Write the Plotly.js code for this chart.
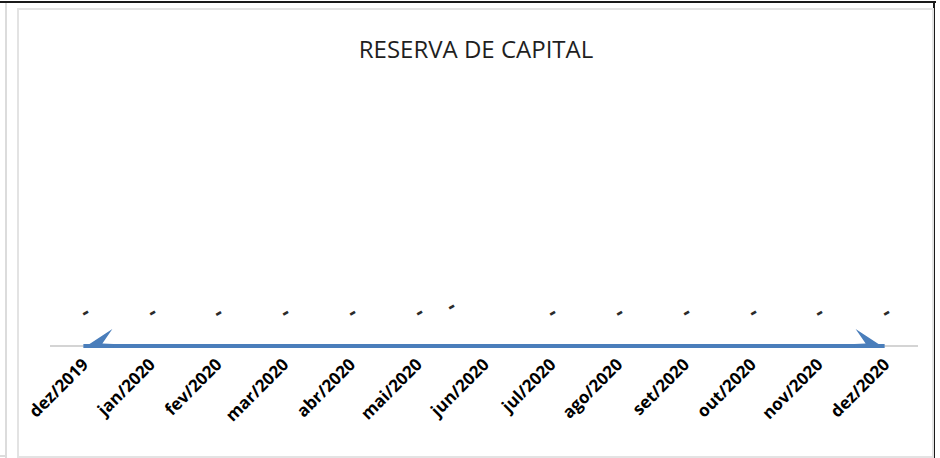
<!DOCTYPE html>
<html>
<head>
<meta charset="utf-8">
<script src="https://cdn.plot.ly/plotly-3.0.1.min.js"></script>
<style>
  html, body { margin: 0; padding: 0; background: #ffffff; }
  #wrap { position: relative; width: 940px; height: 458px; overflow: hidden; }
  #chart { position: absolute; left: 0; top: 0; width: 940px; height: 458px; }
  .deco { position: absolute; pointer-events: none; }
</style>
</head>
<body>
<div id="wrap">
  <div id="chart"></div>
  <div class="deco" style="left:0;top:1px;width:936px;height:2px;background:#1a1a1a;"></div>
  <div class="deco" style="left:933px;top:1px;width:2px;height:457px;background:#1a1a1a;"></div>
  <div class="deco" style="left:5px;top:3px;width:2px;height:455px;background:#dcdcdc;"></div>
  <div class="deco" style="left:0;top:455px;width:7px;height:2px;background:#dcdcdc;"></div>
  <div class="deco" style="left:17px;top:8px;width:913px;height:446px;border:2px solid #e3e3e3;"></div>
</div>
<script>
// ---- data ----
const categories = ['dez/2019','jan/2020','fev/2020','mar/2020','abr/2020','mai/2020','jun/2020',
                    'jul/2020','ago/2020','set/2020','out/2020','nov/2020','dez/2020'];
const values = [0,0,0,0,0,0,0,0,0,0,0,0,0];
const dataLabels = ['-','-','-','-','-','-','-','-','-','-','-','-','-'];
const chartTitle = 'RESERVA DE CAPITAL';

// ---- layout geometry ----
const W = 940, H = 458;
const margin = {l: 50, r: 22, t: 80, b: 108};
const plotH = H - margin.t - margin.b;
const plotW = W - margin.l - margin.r;
const yRange = [-0.015, 1];
const xRange = [-0.5, categories.length - 0.5];
const pxY = (yRange[1] - yRange[0]) / plotH;
const pxX = (xRange[1] - xRange[0]) / plotW;

const lineColor = '#4a7ebb';

function svgUri(svg) { return 'data:image/svg+xml;utf8,' + encodeURIComponent(svg); }
const leftHead = '<svg xmlns="http://www.w3.org/2000/svg" width="30" height="36" viewBox="0 0 30 36" preserveAspectRatio="none">' +
  '<polygon points="0,20 29,1 19,15.5 30,16 30,20" fill="' + lineColor + '"/></svg>';
const rightHead = '<svg xmlns="http://www.w3.org/2000/svg" width="30" height="36" viewBox="0 0 30 36" preserveAspectRatio="none">' +
  '<polygon points="30,20 1,1 11,15.5 0,16 0,20" fill="' + lineColor + '"/></svg>';

const trace = {
  type: 'scatter',
  mode: 'lines',
  x: categories,
  y: values,
  line: {color: lineColor, width: 4},
  hoverinfo: 'skip'
};

const labelFont = {family: 'Open Sans, DejaVu Sans, sans-serif', size: 21, color: '#2b2b2b', weight: 'bold'};
const annotations = categories.map((c, i) => {
  const shifted = (c === 'jun/2020');
  return {
    x: c, y: values[i], xref: 'x', yref: 'y',
    text: dataLabels[i], showarrow: false,
    textangle: -30,
    xshift: shifted ? -34 : 1,
    yshift: shifted ? 41 : 35,
    font: labelFont
  };
});

const lastIdx = categories.length - 1;
const images = [
  {source: svgUri(leftHead), xref: 'x', yref: 'y', x: 0, y: values[0],
   sizex: 30 * pxX, sizey: 36 * pxY, xanchor: 'left', yanchor: 'middle', sizing: 'stretch', layer: 'above'},
  {source: svgUri(rightHead), xref: 'x', yref: 'y', x: lastIdx, y: values[lastIdx],
   sizex: 30 * pxX, sizey: 36 * pxY, xanchor: 'right', yanchor: 'middle', sizing: 'stretch', layer: 'above'}
];

const layout = {
  width: W, height: H,
  margin: margin,
  paper_bgcolor: 'rgba(0,0,0,0)',
  plot_bgcolor: 'rgba(0,0,0,0)',
  showlegend: false,
  title: {
    text: chartTitle,
    xref: 'container', yref: 'container',
    x: 476 / W, y: 1 - 50 / H,
    xanchor: 'center', yanchor: 'middle',
    font: {family: 'Open Sans, DejaVu Sans, sans-serif', size: 24, color: '#1f1f1f'}
  },
  xaxis: {
    type: 'category',
    range: xRange,
    showgrid: false, zeroline: false, showline: false,
    ticks: '',
    tickangle: -45,
    tickfont: {family: 'Open Sans, DejaVu Sans, sans-serif', size: 17, color: '#000000', weight: 'bold'},
    fixedrange: true
  },
  yaxis: {
    range: yRange,
    showgrid: false, showticklabels: false, ticks: '',
    zeroline: true, zerolinecolor: '#d4d4d4', zerolinewidth: 2,
    showline: false, fixedrange: true
  },
  annotations: annotations,
  images: images
};

Plotly.newPlot('chart', [trace], layout, {displayModeBar: false, staticPlot: true});
</script>
</body>
</html>
